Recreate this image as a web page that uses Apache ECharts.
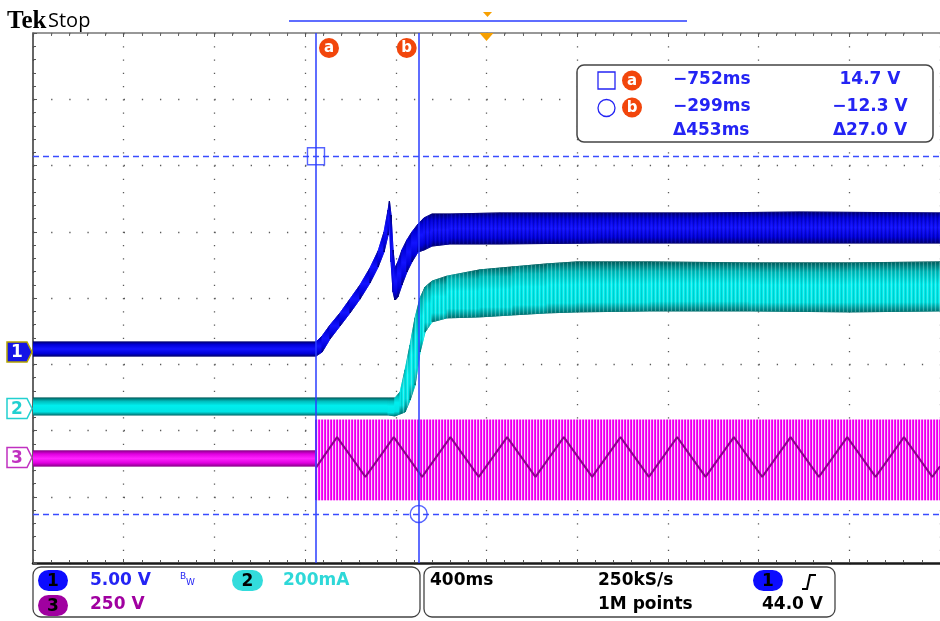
<!DOCTYPE html>
<html><head><meta charset="utf-8">
<script src="https://cdn.jsdelivr.net/npm/echarts@6/dist/echarts.min.js"></script>
<style>html,body{margin:0;padding:0;background:#fff}#c{width:940px;height:621px}</style>
</head><body><div id="c"></div><script>
// ---------- data (time in ms, trigger at 0) ----------
const timeTicks = [-2000, -1600, -1200, -800, -400, 0, 400, 800, 1200, 1600, 2000];
// Channel 1 (V), envelope of the noisy trace
const ch1Time = [-2000, -752, -725, -690, -646, -602, -558, -514, -478, -452, -434, -428, -421, -412, -404, -391, -373, -351, -329, -302, -276, -240, -161, 60, 501, 942, 1383, 2000];
const ch1High = [0.68, 0.68, 1.13, 1.96, 2.87, 3.92, 4.98, 6.26, 7.55, 8.98, 10.64, 11.32, 10.26, 7.62, 6.26, 6.72, 7.62, 8.38, 8.98, 9.58, 10.04, 10.34, 10.34, 10.42, 10.42, 10.42, 10.49, 10.42];
const ch1Low  = [-0.38, -0.38, -0.08, 0.91, 1.89, 2.87, 3.92, 5.13, 6.34, 7.47, 8.75, 9.51, 6.72, 4.45, 3.85, 4.08, 4.98, 5.96, 6.72, 7.47, 7.62, 7.92, 8.08, 8.08, 8.15, 8.15, 8.15, 8.15];
// Channel 2 (mA)
const ch2Time = [-2000, -434, -404, -381, -359, -337, -315, -293, -271, -240, -174, -29, 117, 267, 399, 721, 1162, 1603, 2000];
const ch2High = [28, 28, 28, 46, 113, 188, 270, 330, 363, 381, 396, 415, 424, 433, 439, 439, 436, 436, 439];
const ch2Low  = [-23, -23, -26, -20, -14, 22, 67, 167, 227, 258, 270, 273, 279, 285, 288, 291, 291, 288, 291];
// Channel 3 (V)
const ch3Time = [-2000, -752, -752, 2000];
const ch3High = [23, 23, 140, 140];
const ch3Low  = [-34, -34, -162, -162];
// Channel 3 slow component (dark zig-zag inside the switching band)
const ch3WaveTime = [-752, -659, -534, -409, -284, -159, -34, 91, 216, 341, 466, 591, 716, 841, 966, 1091, 1216, 1341, 1466, 1591, 1716, 1841, 1966, 2000];
const ch3WaveVal  = [-40, 75, -75, 75, -75, 75, -75, 75, -75, 75, -75, 75, -75, 75, -75, 75, -75, 75, -75, 75, -75, 75, -75, -35];
// Cursors
const cursorTimes = [-752, -299];
const cursorLevels = [14.7, -12.3];
const cursorNames = ['a', 'b'];
// Readout texts
const readTime = ['\u2212752ms', '\u2212299ms', '\u0394453ms'];
const readVolt = ['14.7 V', '\u221212.3 V', '\u039427.0 V'];
const chScale = ['5.00 V', '200mA', '250 V'];
const timebase = '400ms', sampleRate = '250kS/s', recordLen = '1M points', trigLevel = '44.0 V';

// ---------- helpers ----------
const chart = echarts.init(document.getElementById('c'), null, {renderer: 'canvas'});
function stripes(cols) {
  const c = document.createElement('canvas'); c.width = cols.length; c.height = 1;
  const g = c.getContext('2d');
  cols.forEach((col, i) => { g.fillStyle = col; g.fillRect(i, 0, 1, 1); });
  return {type: 'pattern', image: c, repeat: 'repeat'};
}
const magentaStripes = stripes(['#ff14ff', '#e600e6', '#fbd2fb']);
const cyanStreaks = stripes(['rgba(255,255,255,0)', 'rgba(0,80,80,0.18)', 'rgba(255,255,255,0)', 'rgba(255,255,255,0.25)']);
const blueStreaks = stripes(['rgba(0,0,0,0)', 'rgba(0,0,90,0.25)', 'rgba(0,0,0,0)', 'rgba(60,60,255,0.2)']);

function band(t, hi, lo, yIdx, z, fillFor, overlayFor) {
  const data = [];
  for (let i = 0; i < t.length - 1; i++) data.push([t[i], lo[i], hi[i], t[i + 1], lo[i + 1], hi[i + 1], i]);
  return {
    type: 'custom', xAxisIndex: 0, yAxisIndex: yIdx, z: z, silent: true, clip: true,
    encode: {x: [0, 3], y: [1, 2, 4, 5]},
    data: data,
    renderItem: function (params, api) {
      const a = api.coord([api.value(0), api.value(2)]);
      const b = api.coord([api.value(3), api.value(5)]);
      const c = api.coord([api.value(3), api.value(4)]);
      const d = api.coord([api.value(0), api.value(1)]);
      const idx = api.value(6);
      const fill = fillFor(idx);
      const kids = [{type: 'polygon', shape: {points: [a, b, c, d]}, style: {fill: fill, stroke: fill, lineWidth: 0.8}}];
      const ov = overlayFor ? overlayFor(idx) : null;
      if (ov) kids.push({type: 'polygon', shape: {points: [a, b, c, d]}, style: {fill: ov}});
      return {type: 'group', children: kids};
    }
  };
}
const LG = (stops) => new echarts.graphic.LinearGradient(0, 0, 0, 1, stops.map((s) => ({offset: s[0], color: s[1]})));
const blueGrad = () => LG([[0, '#00006e'], [0.2, '#0000d8'], [0.5, '#1212ff'], [0.8, '#0000d8'], [1, '#00006e']]);
const cyanGrad = () => LG([[0, '#005c5c'], [0.2, '#00bcbc'], [0.45, '#00eeee'], [0.8, '#00e4e4'], [1, '#006e6e']]);
const magGrad = () => LG([[0, '#8a008a'], [0.22, '#e000e0'], [0.5, '#ff22ff'], [0.78, '#e000e0'], [1, '#8a008a']]);

const dotColor = '#5a5a5a';
const option = {
  animation: false,
  backgroundColor: '#ffffff',
  grid: {left: 33, top: 33, width: 907, height: 530, containLabel: false},
  xAxis: [
    {type: 'value', min: timeTicks[0], max: timeTicks[timeTicks.length - 1], interval: 400, position: 'bottom',
     axisLine: {show: true, onZero: false, lineStyle: {color: '#1a1a1a', width: 2.5}},
     axisTick: {show: true, inside: true, length: 4, lineStyle: {color: '#555'}},
     minorTick: {show: true, splitNumber: 5, length: 3, lineStyle: {color: '#555'}},
     axisLabel: {show: false},
     splitLine: {show: true, lineStyle: {color: dotColor, width: 1.3, type: [1.3, 11.95]}}},
    {type: 'value', min: timeTicks[0], max: timeTicks[timeTicks.length - 1], interval: 400, position: 'top',
     axisLine: {show: true, onZero: false, lineStyle: {color: '#777', width: 1.5}},
     axisTick: {show: true, inside: true, length: 4, lineStyle: {color: '#555'}},
     minorTick: {show: true, splitNumber: 5, length: 3, lineStyle: {color: '#666'}},
     axisLabel: {show: false}, splitLine: {show: false}}
  ],
  yAxis: [
    {type: 'value', min: -4, max: 4, interval: 1, position: 'left',
     axisLine: {show: true, onZero: false, lineStyle: {color: '#333', width: 1.5}},
     axisTick: {show: true, inside: true, length: 4, lineStyle: {color: '#555'}},
     minorTick: {show: true, splitNumber: 5, length: 3, lineStyle: {color: '#555'}},
     axisLabel: {show: false},
     splitLine: {show: true, lineStyle: {color: dotColor, width: 1.3, type: [1.3, 16.84]}}},
    {type: 'value', min: -16, max: 24, show: false, splitLine: {show: false}},
    {type: 'value', min: -470, max: 1130, show: false, splitLine: {show: false}},
    {type: 'value', min: -400, max: 1600, show: false, splitLine: {show: false}}
  ],
  series: [
    band(ch3Time, ch3High, ch3Low, 3, 3, (i) => (i === 2 ? magentaStripes : magGrad()), null),
    {type: 'line', xAxisIndex: 0, yAxisIndex: 3, z: 4, silent: true, symbol: 'none',
     data: ch3WaveTime.map((t, i) => [t, ch3WaveVal[i]]),
     lineStyle: {color: '#8c008c', width: 2}},
    band(ch2Time, ch2High, ch2Low, 2, 5, () => cyanGrad(), (i) => (i >= 3 ? cyanStreaks : null)),
    band(ch1Time, ch1High, ch1Low, 1, 6, () => blueGrad(), (i) => (i >= 20 ? blueStreaks : null)),
    {type: 'scatter', xAxisIndex: 0, yAxisIndex: 1, z: 20, silent: true, symbolSize: 17,
     data: [{value: [cursorTimes[0], cursorLevels[0]], symbol: 'rect'}, {value: [cursorTimes[1], cursorLevels[1]], symbol: 'circle'}],
     itemStyle: {color: 'rgba(0,0,0,0)', borderColor: '#2a3cff', borderWidth: 1.4},
     markLine: {silent: true, symbol: ['none', 'none'], label: {show: false}, z: 19,
       lineStyle: {color: '#2a3cff', width: 1.5},
       data: [
         {xAxis: cursorTimes[0], lineStyle: {type: 'solid', color: '#2a3cff', width: 1.5}},
         {xAxis: cursorTimes[1], lineStyle: {type: 'solid', color: '#2a3cff', width: 1.5}},
         {yAxis: cursorLevels[0], lineStyle: {type: [6, 4], color: '#3a4cff', width: 1.3}},
         {yAxis: cursorLevels[1], lineStyle: {type: [6, 4], color: '#3a4cff', width: 1.3}}
       ]}}
  ]
};
chart.setOption(option);

// ---------- screen furniture ----------
const F = '"DejaVu Sans", sans-serif';
const blue = '#2424f4', cyan = '#2ed8d8', mag = '#a000a0';
const gx = (t) => chart.convertToPixel({xAxisIndex: 0}, t);
const topY = chart.convertToPixel({yAxisIndex: 0}, 4);
function txt(x, y, s, size, fill, align, extra) {
  const w = extra && extra.weight ? extra.weight + ' ' : 'bold ';
  return {type: 'text', x: x, y: y, z: 100, silent: true,
    style: {text: s, font: w + size + 'px ' + (extra && extra.family ? extra.family : F), fill: fill, align: align || 'left', verticalAlign: 'middle'}};
}
function badge(cx, cy, letter) {
  return [
    {type: 'circle', z: 100, silent: true, shape: {cx: cx, cy: cy, r: 10}, style: {fill: '#f2460c'}},
    txt(cx, cy + 0.5, letter, 15, '#fff', 'center', {weight: 'bold'})
  ];
}
function pill(x, y, w, h, fill, label) {
  return [
    {type: 'rect', z: 100, silent: true, shape: {x: x, y: y, width: w, height: h, r: h / 2}, style: {fill: fill}},
    txt(x + w / 2, y + h / 2 + 1, label, 17, '#000', 'center')
  ];
}
function chMarker(yc, fill, stroke, textFill, label) {
  return [
    {type: 'polygon', z: 100, silent: true, shape: {points: [[7, yc - 10], [27, yc - 10], [32, yc], [27, yc + 10], [7, yc + 10]]},
     style: {fill: fill, stroke: stroke, lineWidth: 1.5}},
    txt(17, yc + 1, label, 17, textFill, 'center')
  ];
}
const xa = gx(cursorTimes[0]), xb = gx(cursorTimes[1]), x0 = gx(0);
let els = [];
els.push(txt(7, 22, 'Tek', 25, '#000', 'left', {weight: 'bold', family: '"Liberation Serif", serif'}));
els.push(txt(48, 21, 'Stop', 20, '#000', 'left', {weight: 'normal', family: '"Open Sans", sans-serif'}));
els.push({type: 'line', z: 100, silent: true, shape: {x1: 289, y1: 21, x2: 687, y2: 21}, style: {stroke: '#2a3cff', lineWidth: 1.5}});
els.push({type: 'polygon', z: 100, silent: true, shape: {points: [[483, 12], [492, 12], [487.5, 17]]}, style: {fill: '#f7a000'}});
els.push({type: 'polygon', z: 100, silent: true, shape: {points: [[x0 - 7, topY], [x0 + 7, topY], [x0, topY + 8]]}, style: {fill: '#f7a000'}});
els = els.concat(badge(xa + 13, 48, cursorNames[0]), badge(xb - 12, 48, cursorNames[1]));
// readout box
els.push({type: 'rect', z: 99, silent: true, shape: {x: 577, y: 65, width: 356, height: 77, r: 7}, style: {fill: '#fff', stroke: '#444', lineWidth: 1.5}});
els.push({type: 'rect', z: 100, silent: true, shape: {x: 598, y: 72, width: 17, height: 17}, style: {fill: 'none', stroke: blue, lineWidth: 1.3}});
els.push({type: 'circle', z: 100, silent: true, shape: {cx: 606.5, cy: 108, r: 8.5}, style: {fill: 'none', stroke: blue, lineWidth: 1.3}});
els = els.concat(badge(632, 80.5, cursorNames[0]), badge(632, 107.5, cursorNames[1]));
[80, 107, 131].forEach((y, i) => {
  els.push(txt(673, y, readTime[i], 17, blue, 'left'));
  els.push(txt(870, y, readVolt[i], 17, blue, 'center'));
});
// channel ground markers
els = els.concat(chMarker(352, '#1414e6', '#b4a400', '#fff', '1'));
els = els.concat(chMarker(408.5, '#fff', '#22d0d0', '#22d0d0', '2'));
els = els.concat(chMarker(457.5, '#fff', '#c030c0', '#c030c0', '3'));
// bottom panels
els.push({type: 'rect', z: 99, silent: true, shape: {x: 33, y: 567, width: 387, height: 50, r: 8}, style: {fill: '#fff', stroke: '#444', lineWidth: 1.3}});
els.push({type: 'rect', z: 99, silent: true, shape: {x: 424, y: 567, width: 411, height: 50, r: 8}, style: {fill: '#fff', stroke: '#444', lineWidth: 1.3}});
els = els.concat(pill(38, 570, 30, 21, '#0c0cff', '1'), pill(232, 570, 31, 21, '#33dcdc', '2'), pill(38, 595, 30, 21, '#a000a0', '3'));
els.push(txt(90, 581, chScale[0], 17, blue, 'left'));
els.push(txt(180, 577, 'B', 9, blue, 'left', {weight: 'normal'}));
els.push(txt(186, 583, 'W', 9, blue, 'left', {weight: 'normal'}));
els.push(txt(283, 581, chScale[1], 17, cyan, 'left'));
els.push(txt(90, 605, chScale[2], 17, mag, 'left'));
els.push(txt(430, 581, timebase, 17, '#000', 'left'));
els.push(txt(598, 581, sampleRate, 17, '#000', 'left'));
els = els.concat(pill(753, 570, 30, 21, '#0c0cff', '1'));
els.push({type: 'polyline', z: 100, silent: true, shape: {points: [[802, 589], [807, 589], [810, 575], [816, 575]]}, style: {stroke: '#000', lineWidth: 2, fill: 'none'}});
els.push(txt(598, 605, recordLen, 17, '#000', 'left'));
els.push(txt(823, 605, trigLevel, 17, '#000', 'right'));
chart.setOption({graphic: {elements: els}});
</script></body></html>
